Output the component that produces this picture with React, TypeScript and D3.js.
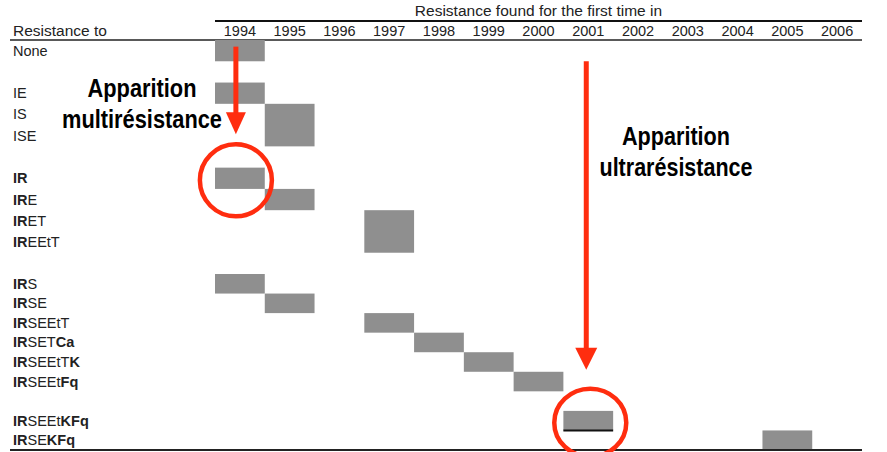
import * as d3 from "d3";

// column headers: year in which each resistance profile was first found
const years = ["1994", "1995", "1996", "1997", "1998", "1999", "2000", "2001", "2002", "2003", "2004", "2005", "2006"];

// row labels; **x** marks bold parts, "" is an empty spacer row
const rowLabels = [
  "None", "",
  "IE", "IS", "ISE", "",
  "**IR**", "**IR**E", "**IR**ET", "**IR**EEtT", "",
  "**IR**S", "**IR**SE", "**IR**SEEtT", "**IR**SET**Ca**", "**IR**SEEtT**K**", "**IR**SEEt**Fq**", "",
  "**IR**SEEt**KFq**", "**IR**SE**KFq**",
];

// first year of appearance per row (null = spacer)
const firstSeen = [
  "1994", null,
  "1994", "1995", "1995", null,
  "1994", "1995", "1997", "1997", null,
  "1994", "1995", "1997", "1998", "1999", "2000", null,
  "2001", "2005",
];

// rows whose bar carries a dark underline
const underlined = ["**IR**SEEt**KFq**"];

// annotations: label lines, row/year the circle is drawn around
const notes = [
  { lines: ["Apparition", "multirésistance"], widths: [109, 160], row: 6, year: "1994", textX: 142, textY: 97 },
  { lines: ["Apparition", "ultrarésistance"], widths: [108, 153], row: 18, year: "2001", textX: 676, textY: 145 },
];

const W = 887;
const H = 452;
const left = 10;
const colStart = 215;
const right = 862;
const font = "'Liberation Sans', Arial, sans-serif";
const red = "#ff2d0f";

const x = d3.scaleBand<string>().domain(years).range([colStart, right]);
// rows are a little taller at the top of the scanned table than at the bottom
const y = d3.scaleLinear().domain([0, 11, rowLabels.length]).range([40, 274, 450]);

const parseLabel = (s: string) =>
  s.split("**").map((t, i) => ({ t, bold: i % 2 === 1 })).filter((p) => p.t);

// merge consecutive rows with the same year into one block
const blocks: { year: string; from: number; to: number }[] = [];
firstSeen.forEach((yr, i) => {
  if (!yr) return;
  const last = blocks[blocks.length - 1];
  if (last && last.year === yr && last.to === i) last.to = i + 1;
  else blocks.push({ year: yr, from: i, to: i + 1 });
});

export default function App() {
  return (
    <svg
      width={W}
      height={H}
      style={{ position: "absolute", left: 0, top: 0, background: "#fff" }}
      fontFamily={font}
    >
      {/* header */}
      <text x={(colStart + right) / 2} y={16} fontSize={15.5} textAnchor="middle" fill="#222">
        Resistance found for the first time in
      </text>
      <line x1={colStart} x2={right} y1={21} y2={21} stroke="#111" strokeWidth={2} />
      <text x={left + 3} y={36} fontSize={15.5} fill="#222">Resistance to</text>
      {years.map((yr) => (
        <text key={yr} x={x(yr)! + x.bandwidth() / 2} y={36} fontSize={14.5} textAnchor="middle" fill="#222">
          {yr}
        </text>
      ))}
      <line x1={left} x2={right} y1={40} y2={40} stroke="#222" strokeWidth={1.5} />

      {/* bars */}
      {blocks.map((b, i) => (
        <rect key={i} x={x(b.year)} y={y(b.from)} width={x.bandwidth()} height={y(b.to) - y(b.from)} fill="#8f8f8f" />
      ))}
      {blocks
        .filter((b) => underlined.includes(rowLabels[b.to - 1]))
        .map((b, i) => (
          <line key={"u" + i} x1={x(b.year)} x2={x(b.year)! + x.bandwidth()} y1={y(b.to)} y2={y(b.to)} stroke="#111" strokeWidth={2} />
        ))}

      {/* row labels */}
      {rowLabels.map((lab, i) =>
        lab ? (
          <text key={i} x={left + 3} y={(y(i) + y(i + 1)) / 2 + 5} fontSize={14.5} fill="#222">
            {parseLabel(lab).map((p, j) => (
              <tspan key={j} fontWeight={p.bold ? "bold" : "normal"}>{p.t}</tspan>
            ))}
          </text>
        ) : null
      )}

      <line x1={left} x2={right} y1={450} y2={450} stroke="#222" strokeWidth={2} />

      {/* annotations */}
      {notes.map((n, k) => {
        const cx = x(n.year)! + x.bandwidth() / 2;
        const cy = (y(n.row) + y(n.row + 1)) / 2 + 2;
        const ry = k === 0 ? 36 : 34;
        const tip = cy - ry - (k === 0 ? 10 : 19);
        const start = k === 0 ? (y(0) + y(1)) / 2 - 4 : y(1);
        const headH = 22;
        const headW = k === 0 ? 20 : 22;
        const ax = cx - (k === 0 ? 4 : 2);
        return (
          <g key={k}>
            <line x1={ax} x2={ax} y1={start} y2={tip - headH + 2} stroke={red} strokeWidth={5} />
            <path
              d={`M${ax - headW / 2},${tip - headH}L${ax + headW / 2},${tip - headH}L${ax},${tip}Z`}
              fill={red}
            />
            <ellipse cx={cx + (k === 0 ? -4 : 2)} cy={cy} rx={36} ry={ry} fill="none" stroke={red} strokeWidth={4.5} />
            {n.lines.map((t, j) => (
              <text
                key={j}
                x={n.textX}
                y={n.textY + j * 31}
                fontWeight="bold"
                fontSize={25}
                textAnchor="middle"
                textLength={n.widths[j]}
                lengthAdjust="spacingAndGlyphs"
                fill="#000"
              >
                {t}
              </text>
            ))}
          </g>
        );
      })}
    </svg>
  );
}
